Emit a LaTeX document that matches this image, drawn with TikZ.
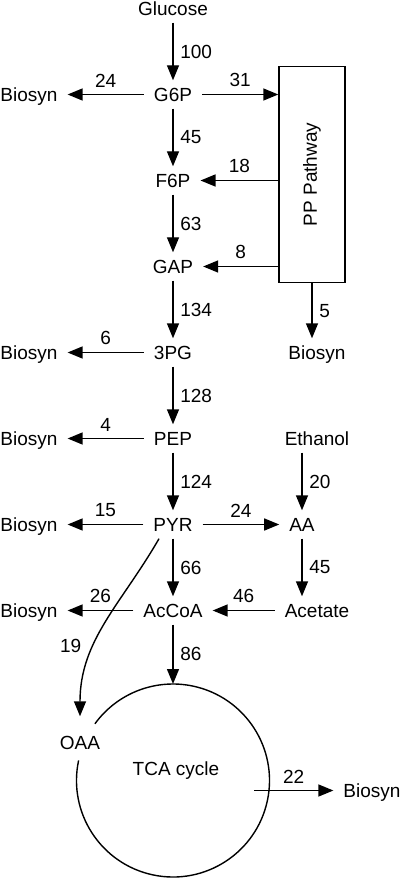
\documentclass[tikz,border=0pt]{standalone}
\usepackage{fontspec}
\setmainfont{Liberation Sans}
\usetikzlibrary{matrix,arrows.meta}

\tikzset{met/.style={inner xsep=4.7pt, inner ysep=3.3pt, text height=6.9pt, text depth=0pt}}

\begin{document}
\begin{tikzpicture}[every node/.style={font=\fontsize{9.5pt}{11.5pt}\selectfont},
    >={Triangle[length=7.5pt,width=6pt]}, line width=0.7pt]
  \matrix (m) [matrix of nodes, row sep={43pt,between origins}, column sep={72pt,between origins}, nodes={met}]
  {
           & Glucose &         \\
    Biosyn & G6P     &         \\
           & F6P     &         \\
           & GAP     &         \\
    Biosyn & 3PG     & Biosyn  \\
    Biosyn & PEP     & Ethanol \\
    Biosyn & PYR     & |[xshift=-7.5pt]| AA \\
    Biosyn & AcCoA   & Acetate \\
  };
  % PP pathway box, TCA cycle
  \path (m-3-2 -| m-5-3) ++(-2.5pt,3pt) node [draw, minimum width=33pt, minimum height=108pt] (pp) {\rotatebox{90}{PP Pathway}};
  \node [circle, minimum size=96.5pt, inner sep=0pt, outer sep=0pt] (tca) at ([yshift=-85pt]m-8-2) {};
  \draw (tca.168) arc [start angle=168, end angle=504, radius=48.25pt];
  \node [met] (tcatext) at ([shift={(1.5pt,6pt)}]tca) {TCA cycle};
  \node [met] (oaa) at ([shift={(-46.5pt,19pt)}]tca) {OAA};
  \node [met] (bstca) at ([shift={(99.5pt,-5pt)}]tca) {Biosyn};
  \path (tca |- bstca) ++(40.5pt,0) coordinate (out22);
  \path[->]
  (m-1-2) edge node [auto] {100} (m-2-2)
  (m-2-2) edge node [auto,swap] {24} (m-2-1)
          edge node [auto] {31} (pp.west |- m-2-2)
          edge node [auto] {45} (m-3-2)
  (pp.west |- m-3-2) edge node [auto,swap] {18} (m-3-2)
  (m-3-2) edge node [auto] {63} (m-4-2)
  (pp.west |- m-4-2) edge node [auto,swap] {8} (m-4-2)
  (m-4-2) edge node [auto] {134} (m-5-2)
  (pp.south) edge node [auto] {5} (pp.south |- m-5-3.north)
  (m-5-2) edge node [auto,swap] {6} (m-5-1)
          edge node [auto] {128} (m-6-2)
  (m-6-2) edge node [auto,swap] {4} (m-6-1)
          edge node [auto] {124} (m-7-2)
  (m-6-3.south -| m-7-3) edge node [auto] {20} (m-7-3)
  (m-7-2) edge node [auto,swap] {15} (m-7-1)
          edge node [auto] {24} (m-7-3)
          edge node [auto] {66} (m-8-2)
  (m-7-3) edge node [auto] {45} (m-8-3.north -| m-7-3)
  (m-8-3) edge node [auto,swap] {46} (m-8-2)
  (m-8-2) edge node [auto,swap] {26} (m-8-1)
          edge node [auto] {86} (tca.north)
  ([xshift=-7pt]m-7-2.south) edge [out=-120,in=90] node [auto,swap,pos=0.72] {19} ([yshift=6pt]oaa.north)
  (out22) edge node [auto] {22} (bstca)
  ;
  \pgfresetboundingbox
  \path[use as bounding box] ([shift={(-86.5pt,4.25pt)}]m-1-2.center) rectangle ([shift={(113.5pt,-434.75pt)}]m-1-2.center);
\end{tikzpicture}
\end{document}
